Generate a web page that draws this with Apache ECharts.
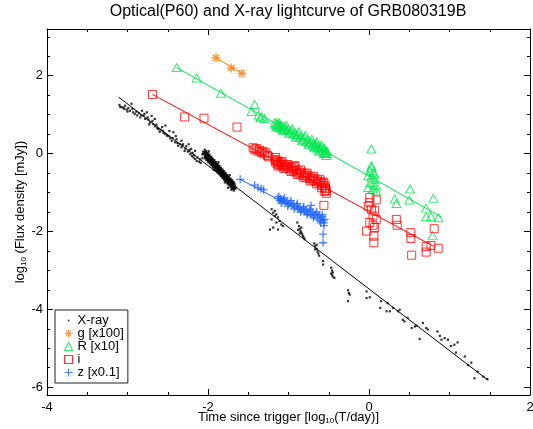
<!DOCTYPE html>
<html><head><meta charset="utf-8">
<script src="https://cdn.jsdelivr.net/npm/echarts@6/dist/echarts.min.js"></script>
<style>html,body{margin:0;padding:0;background:#fff}#c{width:533px;height:429px}</style>
</head><body><div id="c"></div>
<script>
// ---------- data (log10 T/day, log10 flux) ----------
const seriesNames = ['X-ray', 'g [x100]', 'R [x10]', 'i', 'z [x0.1]'];
const xTicks = [-4, -2, 0, 2];
const yMajor = [-6, -4, -2, 0, 2];
const yMinor = [-6, -5.5, -5, -4.5, -4, -3.5, -3, -2.5, -2, -1.5, -1, -0.5, 0, 0.5, 1, 1.5, 2, 2.5, 3];

const xray = [
[-3.10,1.25],[-3.09,1.20],[-3.07,1.19],[-3.05,1.18],[-3.04,1.15],[-3.03,1.23],[-3.01,1.13],[-3.00,1.08],[-2.99,1.17],[-2.97,1.10],
[-2.95,1.28],[-2.94,1.15],[-2.93,1.06],[-2.91,1.02],[-2.89,1.08],[-2.88,0.98],[-2.86,1.04],[-2.84,0.93],[-2.83,0.99],[-2.82,1.10],
[-2.80,0.97],[-2.79,1.02],[-2.78,0.89],[-2.76,1.06],[-2.75,0.93],[-2.74,0.87],[-2.73,0.75],[-2.72,0.80],[-2.70,0.97],[-2.69,0.84],
[-2.68,0.76],[-2.66,0.70],[-2.66,0.89],[-2.64,0.74],[-2.63,0.66],[-2.62,0.63],[-2.60,0.56],[-2.59,0.61],[-2.57,0.68],[-2.56,0.58],
[-2.55,0.53],[-2.53,0.50],[-2.53,0.72],[-2.51,0.46],[-2.49,0.45],[-2.48,0.58],[-2.47,0.39],[-2.45,0.33],[-2.44,0.40],[-2.43,0.55],
[-2.41,0.29],[-2.40,0.45],[-2.39,0.37],[-2.38,0.27],[-2.37,0.20],[-2.35,0.25],[-2.33,0.16],[-2.33,0.33],[-2.32,0.21],[-2.31,0.24],
[-2.29,0.07],[-2.28,0.13],[-2.27,0.19],[-2.25,0.05],[-2.24,0.24],[-2.23,0.09],[-2.22,-0.01],[-2.21,0.12],[-2.20,-0.06],[-2.19,0.02],
[-2.18,-0.10],[-2.17,-0.04],[-2.16,-0.14],[-2.16,0.07],[-2.14,-0.19],[-2.13,-0.10],[-2.11,-0.21],[-2.10,-0.15],[-2.09,-0.24],[-2.07,-0.12],
[-2.07,-0.02],[-2.06,0.05],[-2.06,0.00],
[-2.04,0.10],[-2.04,0.04],[-2.04,-0.01],[-2.04,-0.06],[-2.04,-0.12],
[-2.03,0.05],[-2.03,0.00],[-2.03,-0.06],[-2.03,-0.11],
[-2.02,0.06],[-2.02,0.00],[-2.02,-0.05],[-2.02,-0.10],[-2.02,-0.16],
[-2.01,0.00],[-2.01,-0.05],[-2.01,-0.11],[-2.01,-0.16],
[-2.00,0.01],[-2.00,-0.05],[-2.00,-0.10],[-2.00,-0.15],[-2.00,-0.21],
[-1.99,-0.04],[-1.99,-0.09],[-1.99,-0.15],[-1.99,-0.20],
[-1.98,-0.03],[-1.98,-0.09],[-1.98,-0.14],[-1.98,-0.19],[-1.98,-0.25],
[-1.97,-0.09],[-1.97,-0.14],[-1.97,-0.20],[-1.97,-0.25],
[-1.96,-0.08],[-1.96,-0.14],[-1.96,-0.19],[-1.96,-0.24],[-1.96,-0.30],
[-1.95,-0.13],[-1.95,-0.18],[-1.95,-0.24],[-1.95,-0.29],
[-1.94,-0.13],[-1.94,-0.19],[-1.94,-0.24],[-1.94,-0.29],[-1.94,-0.35],
[-1.93,-0.18],[-1.93,-0.23],[-1.93,-0.29],[-1.93,-0.34],
[-1.92,-0.17],[-1.92,-0.23],[-1.92,-0.28],[-1.92,-0.33],[-1.92,-0.39],
[-1.91,-0.23],[-1.91,-0.28],[-1.91,-0.34],[-1.91,-0.39],
[-1.90,-0.22],[-1.90,-0.28],[-1.90,-0.33],[-1.90,-0.38],[-1.90,-0.44],
[-1.89,-0.27],[-1.89,-0.32],[-1.89,-0.38],[-1.89,-0.43],
[-1.88,-0.27],[-1.88,-0.33],[-1.88,-0.38],[-1.88,-0.43],[-1.88,-0.49],
[-1.87,-0.32],[-1.87,-0.37],[-1.87,-0.43],[-1.87,-0.48],
[-1.86,-0.31],[-1.86,-0.37],[-1.86,-0.42],[-1.86,-0.47],[-1.86,-0.53],
[-1.85,-0.37],[-1.85,-0.42],[-1.85,-0.48],[-1.85,-0.53],
[-1.84,-0.36],[-1.84,-0.42],[-1.84,-0.47],[-1.84,-0.52],[-1.84,-0.58],
[-1.83,-0.41],[-1.83,-0.46],[-1.83,-0.52],[-1.83,-0.57],
[-1.82,-0.41],[-1.82,-0.47],[-1.82,-0.52],[-1.82,-0.57],[-1.82,-0.63],
[-1.81,-0.46],[-1.81,-0.51],[-1.81,-0.57],[-1.81,-0.62],
[-1.80,-0.45],[-1.80,-0.51],[-1.80,-0.56],[-1.80,-0.61],[-1.80,-0.67],
[-1.79,-0.51],[-1.79,-0.56],[-1.79,-0.62],[-1.79,-0.67],
[-1.78,-0.50],[-1.78,-0.56],[-1.78,-0.61],[-1.78,-0.66],[-1.78,-0.72],
[-1.77,-0.55],[-1.77,-0.60],[-1.77,-0.66],[-1.77,-0.71],
[-1.76,-0.55],[-1.76,-0.61],[-1.76,-0.66],[-1.76,-0.71],[-1.76,-0.77],
[-1.75,-0.60],[-1.75,-0.65],[-1.75,-0.71],[-1.75,-0.76],
[-1.74,-0.59],[-1.74,-0.65],[-1.74,-0.70],[-1.74,-0.75],[-1.74,-0.81],
[-1.73,-0.65],[-1.73,-0.70],[-1.73,-0.76],[-1.73,-0.81],
[-1.72,-0.64],[-1.72,-0.70],[-1.72,-0.75],[-1.72,-0.80],[-1.72,-0.86],
[-1.71,-0.69],[-1.71,-0.74],[-1.71,-0.80],[-1.71,-0.85],
[-1.70,-0.68],[-1.70,-0.74],[-1.70,-0.79],[-1.70,-0.84],[-1.70,-0.90],
[-1.69,-0.74],[-1.69,-0.79],[-1.69,-0.85],[-1.69,-0.90],
[-1.68,-0.73],[-1.68,-0.79],[-1.68,-0.84],[-1.68,-0.89],[-1.68,-0.95],
[-1.67,-0.78],[-1.67,-0.83],[-1.67,-0.89],
[-1.66,-0.85],[-1.66,-0.90],
[-1.99,0.06],[-1.93,-0.42],[-1.79,-0.74],[-1.75,-0.88],[-1.71,-0.93],[-1.73,-0.55],[-1.87,-0.22],
[-1.21,-1.43],[-1.19,-1.52],[-1.17,-1.60],[-1.15,-1.56],[-1.21,-1.69],[-1.13,-1.64],[-1.11,-1.73],[-1.15,-1.77],[-1.09,-1.82],[-1.07,-1.86],
[-1.17,-1.47],[-1.19,-1.90],[-1.23,-1.95],[-1.13,-1.95],
[-0.89,-1.77],[-0.87,-1.86],[-0.86,-1.93],[-0.85,-1.99],[-0.84,-2.03],[-0.83,-2.07],[-0.82,-2.12],[-0.81,-2.16],[-0.88,-1.96],[-0.86,-2.05],
[-0.80,-2.20],[-0.84,-1.90],
[-0.68,-2.31],[-0.67,-2.38],[-0.65,-2.44],[-0.64,-2.51],[-0.63,-2.56],[-0.67,-2.46],[-0.62,-2.62],[-0.65,-2.34],
[-0.57,-2.76],[-0.57,-2.85],[-0.47,-2.93],[-0.46,-3.00],[-0.45,-3.05],[-0.46,-3.11],[-0.45,-3.16],[-0.43,-3.19],[-0.47,-3.08],
[-0.26,-3.51],[-0.25,-3.58],[-0.24,-3.62],[-0.26,-3.79],[-0.03,-3.54],[-0.03,-3.71],[0.01,-3.69],
[0.15,-3.79],[0.14,-3.96],[0.23,-3.84],[0.26,-4.05],[0.22,-4.05],[0.30,-3.96],[0.36,-4.05],[0.38,-4.01],[0.42,-4.27],[0.44,-4.31],
[0.48,-4.22],[0.53,-4.48],[0.57,-4.44],[0.59,-4.42],[0.63,-4.76],[0.67,-4.35],[0.71,-4.48],[0.73,-4.52],[0.85,-4.57],[0.88,-4.68],
[0.90,-4.78],[0.94,-4.74],[0.98,-4.78],[1.02,-4.94],[1.06,-4.91],[1.10,-4.85],[1.08,-5.11],[1.19,-5.21],[1.27,-5.37],[1.23,-5.43],
[1.31,-5.77],[1.35,-5.60],[1.42,-5.73],[1.47,-5.79]
];

const gBand = [[-1.90,2.46],[-1.71,2.20],[-1.58,2.06]];

const rBand = [
[-2.39,2.21],[-2.14,1.94],[-1.84,1.55],[-1.42,1.26],[-1.46,1.08],[-1.37,0.99],[-1.33,0.95],[-1.30,0.90],[-1.35,0.92],
[-1.17,0.80],[-1.16,0.74],[-1.15,0.78],[-1.14,0.71],[-1.13,0.76],[-1.12,0.69],[-1.11,0.74],[-1.10,0.67],[-1.09,0.72],[-1.08,0.64],
[-1.06,0.70],[-1.05,0.62],[-1.04,0.66],[-1.02,0.60],[-1.00,0.63],[-0.98,0.55],[-0.96,0.58],[-0.94,0.50],[-0.92,0.53],[-0.90,0.46],
[-0.88,0.49],[-0.86,0.41],[-0.84,0.45],[-0.82,0.36],[-0.80,0.40],[-0.78,0.31],[-0.76,0.35],[-0.74,0.27],[-0.72,0.30],[-0.70,0.22],
[-0.69,0.27],[-0.67,0.18],[-0.66,0.24],[-0.64,0.14],[-0.63,0.20],[-0.61,0.10],[-0.60,0.16],[-0.58,0.07],[-0.57,0.12],[-0.55,0.03],
[-0.54,0.09],[-0.53,0.00],
[-1.15,0.68],[-1.12,0.80],[-1.07,0.60],[-1.03,0.72],[-0.99,0.52],[-0.95,0.64],[-0.91,0.42],[-0.87,0.56],[-0.83,0.33],[-0.79,0.47],
[-0.75,0.24],[-0.71,0.37],[-0.68,0.15],[-0.65,0.30],[-0.62,0.06],[-0.59,0.22],[-0.56,0.00],[-0.56,0.15],[-0.52,0.06],[-0.53,-0.05],
[0.03,0.12],[0.03,-0.31],[0.01,-0.44],[0.05,-0.48],[-0.01,-0.57],[0.03,-0.61],[0.07,-0.66],[0.02,-0.74],[0.06,-0.79],[0.09,-0.83],
[-0.01,-0.87],[0.05,-0.91],[0.09,-0.96],[0.03,-0.36],[0.07,-0.53],
[0.51,-0.91],[0.32,-1.17],[0.34,-1.28],[0.50,-1.19],[0.80,-1.15],[0.71,-1.40],[0.71,-1.62],[0.77,-1.62],[0.86,-1.65],[0.79,-2.10]
];

const iBand = [
[-2.69,1.52],[-2.29,0.94],[-2.05,0.91],[-1.64,0.68],
[-1.44,0.15],[-1.42,0.10],[-1.40,0.13],[-1.38,0.06],[-1.36,0.09],[-1.34,0.03],[-1.32,0.06],[-1.30,-0.01],[-1.28,0.02],[-1.26,-0.05],[-1.25,-0.08],
[-1.17,-0.15],[-1.16,-0.22],[-1.15,-0.18],[-1.14,-0.26],[-1.13,-0.20],[-1.12,-0.28],[-1.10,-0.23],[-1.09,-0.31],[-1.07,-0.27],[-1.05,-0.34],
[-1.04,-0.29],[-1.02,-0.37],[-1.00,-0.33],[-0.98,-0.40],[-0.96,-0.36],[-0.94,-0.44],[-0.92,-0.40],[-0.90,-0.48],[-0.88,-0.44],[-0.86,-0.52],
[-0.84,-0.48],[-0.82,-0.56],[-0.80,-0.52],[-0.78,-0.60],[-0.76,-0.56],[-0.74,-0.64],[-0.72,-0.60],[-0.70,-0.68],[-0.68,-0.64],[-0.66,-0.72],
[-0.64,-0.68],[-0.62,-0.76],[-0.60,-0.72],[-0.58,-0.82],[-0.57,-0.77],[-0.55,-0.88],[-0.54,-0.83],[-0.53,-0.95],[-0.55,-0.97],[-0.54,-0.90],
[-1.16,-0.10],[-1.13,-0.32],[-1.08,-0.20],[-1.06,-0.38],[-1.01,-0.28],[-0.97,-0.46],[-0.93,-0.33],[-0.89,-0.54],[-0.85,-0.42],[-0.81,-0.62],
[-0.77,-0.50],[-0.73,-0.70],[-0.69,-0.58],[-0.65,-0.78],[-0.61,-0.66],[-0.59,-0.88],[-0.56,-0.74],[-0.53,-1.02],
[-0.92,-0.31],[-0.56,-1.33],
[0.01,-1.13],[0.01,-1.26],[0.09,-1.19],[-0.01,-1.35],[0.03,-1.43],[0.07,-1.47],[0.05,-1.60],[0.09,-1.69],[0.01,-1.77],[0.05,-1.84],
[0.07,-1.90],[-0.03,-1.99],[0.06,-2.12],[0.06,-2.29],
[0.34,-1.69],[0.35,-1.84],[0.52,-2.03],[0.52,-2.18],[0.53,-2.61],[0.71,-2.39],[0.71,-2.53],[0.81,-1.93],[0.86,-2.43],[0.77,-2.36]
];

const zBand = [
[-1.60,-0.66],[-1.42,-0.81],[-1.38,-0.87],[-1.34,-0.90],[-1.31,-0.93],
[-1.13,-1.15],[-1.11,-1.20],[-1.10,-1.16],[-1.08,-1.23],[-1.06,-1.19],[-1.04,-1.26],[-1.02,-1.22],[-1.00,-1.30],[-0.98,-1.26],[-0.96,-1.33],
[-0.94,-1.29],[-0.92,-1.37],[-0.90,-1.33],[-0.88,-1.41],[-0.86,-1.37],[-0.84,-1.45],[-0.82,-1.40],[-0.80,-1.48],[-0.78,-1.44],[-0.76,-1.52],
[-0.74,-1.47],[-0.72,-1.56],[-0.70,-1.51],[-0.68,-1.59],[-0.66,-1.55],[-0.64,-1.63],[-0.62,-1.58],[-0.60,-1.67],[-0.58,-1.62],[-0.57,-1.72],
[-0.56,-1.78],[-0.55,-1.69],
[-1.12,-1.10],[-1.09,-1.27],[-1.05,-1.14],[-1.01,-1.35],[-0.97,-1.21],[-0.93,-1.42],[-0.89,-1.28],[-0.85,-1.50],[-0.81,-1.36],[-0.77,-1.57],
[-0.73,-1.43],[-0.69,-1.65],[-0.65,-1.50],[-0.61,-1.73],[-0.58,-1.57],[-0.56,-1.85],[-0.60,-1.78],
[-0.72,-1.33],[-0.57,-2.07],[-0.57,-2.29]
];

// power-law fit lines (end points)
const xrayFit = [[-3.11,1.45],[1.48,-5.82]];
const gFit = [[-1.90,2.46],[-1.58,2.06]];
const rFit = [[-2.39,2.21],[0.91,-1.64]];
const iFit = [[-2.69,1.52],[0.80,-2.38]];
const zFit = [[-1.60,-0.66],[-0.59,-1.77]];

// ---------- styling ----------
const F = "'Liberation Sans', Arial, Helvetica, sans-serif";
const C = {x:'#000000', g:'#ff7f00', r:'#00e84f', i:'#ff0000', z:'#1e64ff'};
const PLUS = 'path://M0,5L10,5M5,0L5,10';
const STAR = 'path://M0,5L10,5M5,0L5,10M1.5,1.5L8.5,8.5M8.5,1.5L1.5,8.5';
const DOT = 'path://M0,0M10,10M4,4L6,4L6,6L4,6Z';

const tickStyle = {color:'#000', width:1};
function xAx(pos, showLabel){
  return {type:'value', position:pos, min:-4, max:2, interval:2,
    axisLine:{show:true, onZero:false, lineStyle:tickStyle},
    axisTick:{show:true, inside:true, length:6, lineStyle:tickStyle},
    minorTick:{show:true, splitNumber:4, length:3, lineStyle:tickStyle},
    axisLabel:{show:showLabel, fontSize:13, color:'#000', fontFamily:F, margin:6},
    splitLine:{show:false}, minorSplitLine:{show:false}};
}
function yAx(pos, vals, len, withLine, showLabel){
  return {type:'value', position:pos, min:-6.2, max:3.2, offset:0,
    axisLine:{show:withLine, onZero:false, lineStyle:tickStyle},
    axisTick:{show:true, inside:true, length:len, customValues:vals, lineStyle:tickStyle},
    axisLabel:{show:showLabel, customValues:vals, fontSize:13, color:'#000', fontFamily:F, margin:4},
    splitLine:{show:false}};
}
const xBottom = xAx('bottom', true);
xBottom.name = '{a|Time since trigger [log}{s|10}{a|(T/day)]}';
xBottom.nameLocation = 'middle';
xBottom.nameGap = 15;
xBottom.nameMoveOverlap = false;
xBottom.nameTextStyle = {color:'#000', fontSize:13, fontFamily:F, rich:{
  a:{fontSize:13, fontFamily:F, color:'#000'},
  s:{fontSize:8, fontFamily:F, color:'#000', padding:[7,0,0,0]}}};
const yLeft = yAx('left', yMajor, 6, true, true);
yLeft.name = '{a|log}{s|10}{a| (Flux density [mJy])}';
yLeft.nameLocation = 'middle';
yLeft.nameRotate = 90;
yLeft.nameGap = 19;
yLeft.nameMoveOverlap = false;
yLeft.nameTextStyle = {color:'#000', fontSize:13, fontFamily:F, rich:{
  a:{fontSize:13, fontFamily:F, color:'#000'},
  s:{fontSize:8, fontFamily:F, color:'#000', padding:[7,0,0,0]}}};

function scat(name, data, symbol, size, col, bw, z){
  return {type:'scatter', name:name, data:data, symbol:symbol, symbolSize:size,
    xAxisIndex:0, yAxisIndex:0, z:z, silent:true,
    itemStyle: bw ? {color:'rgba(0,0,0,0)', borderColor:col, borderWidth:bw} : {color:col}};
}
function fit(name, data, col){
  return {type:'line', name:name, data:data, symbol:'none', xAxisIndex:0, yAxisIndex:0, z:5, silent:true,
    lineStyle:{color:col, width:1}};
}

const chart = echarts.init(document.getElementById('c'), null, {renderer:'canvas'});
chart.setOption({
  animation:false,
  backgroundColor:'#fff',
  title:{text:'Optical(P60) and X-ray lightcurve of GRB080319B', left:288, top:4, textAlign:'center', padding:0,
    textStyle:{fontSize:16, fontWeight:'normal', color:'#000', fontFamily:F}},
  grid:{left:47, right:3, top:29, bottom:34, outerBoundsMode:'none', containLabel:false},
  xAxis:[xBottom, xAx('top', false)],
  yAxis:[yLeft, yAx('left', yMinor, 3, false, false), yAx('right', yMajor, 6, true, false), yAx('right', yMinor, 3, false, false)],
  legend:{orient:'vertical', left:55, top:310, padding:[4,4,4,9], itemGap:0, itemWidth:8, itemHeight:8,
    borderColor:'#222', borderWidth:1, backgroundColor:'#fff', selectedMode:false,
    textStyle:{fontSize:13, lineHeight:13, color:'#000', fontFamily:F},
    itemStyle:{borderWidth:1.2},
    data:[{name:seriesNames[0], icon:DOT, itemStyle:{color:'#000', borderWidth:0}},
      seriesNames[1], seriesNames[2], seriesNames[3], seriesNames[4]]},
  series:[
    scat(seriesNames[0], xray, 'rect', 2.2, C.x, 0, 2),
    scat(seriesNames[1], gBand, STAR, 9, C.g, 1.5, 3),
    scat(seriesNames[2], rBand, 'triangle', [9,8], C.r, 1, 3),
    scat(seriesNames[3], iBand, 'rect', 8, C.i, 1, 3),
    scat(seriesNames[4], zBand, PLUS, 8, C.z, 1.3, 3),
    fit('X-ray fit', xrayFit, C.x),
    fit('g fit', gFit, C.g),
    fit('R fit', rFit, C.r),
    fit('i fit', iFit, C.i),
    fit('z fit', zFit, C.z)
  ]
});
</script>
</body></html>
